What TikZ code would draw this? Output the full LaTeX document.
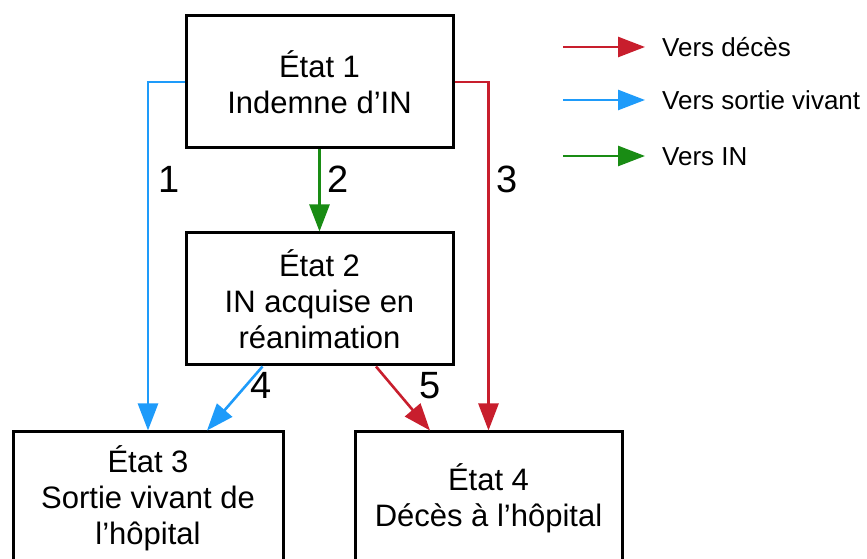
\documentclass[tikz,border=0pt]{standalone}
\usepackage{fontspec}
\setmainfont{Liberation Sans}
\usetikzlibrary{arrows.meta,positioning}
\definecolor{deces}{RGB}{200,30,45}
\definecolor{sortie}{RGB}{30,155,250}
\definecolor{infect}{RGB}{25,140,20}
\tikzset{state/.style={rectangle,draw,line width=3pt,minimum width=267pt,minimum height=132pt,align=center,font=\fontsize{31}{36}\selectfont}}
\tikzset{arrow/.style={draw,line width=2.6pt,-{Triangle[length=27pt,width=20pt]}}}
\tikzset{num/.style={text=black,font=\fontsize{38}{40}\selectfont,inner sep=3pt}}
\tikzset{legend/.style={text=black,inner sep=0pt,text height=18.6pt,text depth=0pt,font=\fontsize{26}{30}\selectfont}}

\begin{document}
\begin{tikzpicture}[x=1pt,y=1pt]
    \clip (0,0) rectangle (867,559);
    \node[state] (e1) at (319.5,477) {État 1\\Indemne d’IN};
    \node[state,below of=e1,node distance=217pt] (e2) {État 2\\IN acquise en\\réanimation};
    \node[state,minimum width=270pt] (e3) at (148,61) {État 3\\Sortie vivant de\\l’hôpital};
    \node[state] (e4) at (488.5,61) {État 4\\Décès à l’hôpital};

    \coordinate (d1) at (563,512);
    \coordinate (f1) at (645,512);
    \coordinate (d2) at (563,459);
    \coordinate (f2) at (645,459);
    \coordinate (d3) at (563,403);
    \coordinate (f3) at (645,403);
    \node[legend,right=17pt of f1] (t1) {Vers décès};
    \node[legend,right=17pt of f2] (t2) {Vers sortie vivant};
    \node[legend,right=17pt of f3] (t3) {Vers IN};

        \path[arrow,sortie] (e1.west) -| node[num,pos=0.64,right=6pt] (n1) {1} (e3.north);
        \path[arrow,infect] (e1.south) -- node[num,pos=0.36,right=4pt] (n2) {2} (e2.north);
        \path[arrow,deces] (e1.east) -| node[num,pos=0.64,right=4pt] (n3) {3} (e4.north);
        \path[arrow,sortie] ([xshift=-57pt]e2.south) -- node[num,pos=0.3,right] (n4) {4} ([xshift=59pt]e3.north);
        \path[arrow,deces] ([xshift=56.5pt]e2.south) -- node[num,pos=0.3,right=23pt] (n5) {5} ([xshift=-58.5pt]e4.north);
        \path[arrow,deces] (d1) -- (f1);
        \path[arrow,sortie] (d2) -- (f2);
        \path[arrow,infect] (d3) -- (f3);
\end{tikzpicture}
\end{document}
